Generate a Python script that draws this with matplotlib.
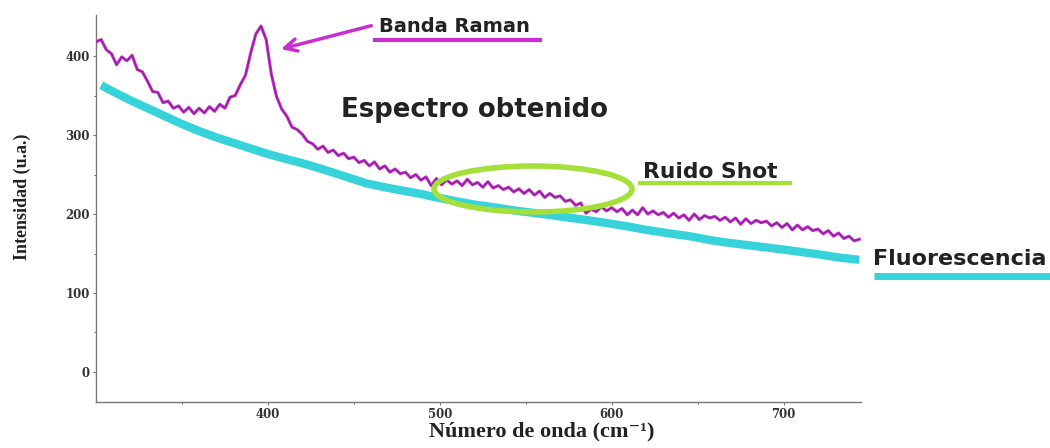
import matplotlib.pyplot as plt
import numpy as np
from matplotlib.patches import Ellipse
from matplotlib.lines import Line2D

# wavenumber grid of the measured spectrum (cm-1), one sample every 3 cm-1
wavenumber = np.arange(300, 745, 3)

spectrum = [
    418, 421, 408, 403, 389, 399, 394, 401, 383, 380,
    368, 355, 354, 341, 343, 334, 337, 329, 335, 327,
    334, 328, 336, 330, 339, 334, 348, 350, 364, 376,
    404, 428, 438, 421, 377, 349, 333, 324, 310, 307,
    301, 292, 289, 282, 286, 278, 281, 274, 277, 270,
    272, 265, 268, 261, 266, 257, 261, 253, 257, 251,
    253, 246, 250, 243, 247, 236, 245, 237, 243, 238,
    242, 236, 244, 237, 240, 234, 241, 233, 236, 231,
    234, 228, 232, 226, 231, 224, 229, 221, 226, 221,
    223, 216, 218, 211, 214, 201, 206, 203, 209, 204,
    208, 203, 207, 199, 205, 199, 208, 200, 204, 199,
    202, 196, 201, 195, 199, 192, 200, 193, 198, 195,
    197, 192, 196, 190, 195, 187, 194, 188, 192, 189,
    191, 185, 189, 183, 188, 180, 186, 180, 184, 179,
    181, 175, 179, 172, 176, 169, 172, 166, 168,
]

# fluorescence background
fluor_x = [303, 310, 320, 330, 341, 350, 360, 370, 380, 390, 400, 410, 419,
           430, 440, 450, 457, 470, 480, 490, 496, 510, 520, 530, 545, 560,
           570, 580, 593, 610, 620, 635, 645, 660, 670, 685, 700, 710, 720,
           732, 744]
fluor_y = [363, 355, 344, 334, 323, 314, 305, 297, 290, 283, 276, 270, 265,
           258, 251, 244, 239, 233, 229, 225, 222, 216, 212, 209, 204, 200,
           197, 194, 190, 184, 180, 175, 172, 166, 163, 159, 155, 152, 149,
           145, 142]

x_ticks = [400, 500, 600, 700]
y_ticks = [0, 100, 200, 300, 400]

MAGENTA = '#c72fd0'
CYAN = '#36d3db'
GREEN = '#a5e03a'

fig = plt.figure(figsize=(10.5, 4.48), dpi=100)
ax = fig.add_axes([0.0914, 0.1027, 0.7286, 0.8638])

ax.plot(fluor_x, fluor_y, color=CYAN, lw=6, solid_capstyle='butt', zorder=2)
# magenta trace with a darker core, like the scanned original
ax.plot(wavenumber, spectrum, color=MAGENTA, lw=2.2, zorder=3)
ax.plot(wavenumber, spectrum, color='#7d2285', lw=0.7, zorder=4)

ax.set_xlim(300, 745)
ax.set_ylim(-38, 452)
ax.set_xticks(x_ticks)
ax.set_yticks(y_ticks)
ax.set_xticks([350, 450, 550, 650], minor=True)
ax.set_yticks([50, 150, 250, 350], minor=True)
ax.tick_params(which='both', colors='#777777', width=0.8, length=2.5, pad=2)
ax.tick_params(which='minor', length=1.5)
for lab in ax.get_xticklabels() + ax.get_yticklabels():
    lab.set_fontfamily('DejaVu Serif')
    lab.set_fontweight('bold')
    lab.set_fontsize(8.5)
    lab.set_color('#333333')
for side in ['top', 'right']:
    ax.spines[side].set_visible(False)
for side in ['left', 'bottom']:
    ax.spines[side].set_color('#777777')
    ax.spines[side].set_linewidth(1)

serif = ['Liberation Serif', 'DejaVu Serif']
ax.set_xlabel('Número de onda (cm⁻¹)', family=serif, fontweight='bold',
              fontsize=16, color='#222222')
ax.set_ylabel('Intensidad (u.a.)', family=serif, fontweight='bold',
              fontsize=13, color='#222222')
ax.xaxis.set_label_coords(0.583, -0.05)
ax.yaxis.set_label_coords(-0.085, 0.53)

# annotations, placed in figure pixels / size
W, H = 1050, 448


def fx(px):
    return px / W


def fy(py):
    return 1 - py / H


sans = 'DejaVu Sans'
fig.text(fx(379), fy(27), 'Banda Raman', family=sans, fontweight='bold',
         fontsize=14, va='center', ha='left', color='#222222')
fig.add_artist(Line2D([fx(375), fx(540)], [fy(40), fy(40)], color=MAGENTA, lw=3))
ax.annotate('', xy=(406, 408), xycoords='data',
            xytext=(fx(374), fy(25)), textcoords='figure fraction',
            arrowprops=dict(arrowstyle='->', color=MAGENTA, lw=2.5,
                            mutation_scale=22))

fig.text(fx(341), fy(110), 'Espectro obtenido', family=sans, fontweight='bold',
         fontsize=18.7, va='center', ha='left', color='#222222')

fig.text(fx(643), fy(172), 'Ruido Shot', family=sans, fontweight='bold',
         fontsize=15.7, va='center', ha='left', color='#222222')
fig.add_artist(Line2D([fx(640), fx(790)], [fy(183), fy(183)], color=GREEN, lw=3))
fig.add_artist(Ellipse((fx(533), fy(189)), 198 / W, 46 / H, fill=False,
                       edgecolor=GREEN, lw=4, transform=fig.transFigure))

fig.text(fx(873), fy(259), 'Fluorescencia', family=sans, fontweight='bold',
         fontsize=16, va='center', ha='left', color='#222222')
fig.add_artist(Line2D([fx(874), fx(1050)], [fy(276), fy(276)], color=CYAN, lw=5,
                      solid_capstyle='butt'))

fig.savefig('out.png', dpi=100)
